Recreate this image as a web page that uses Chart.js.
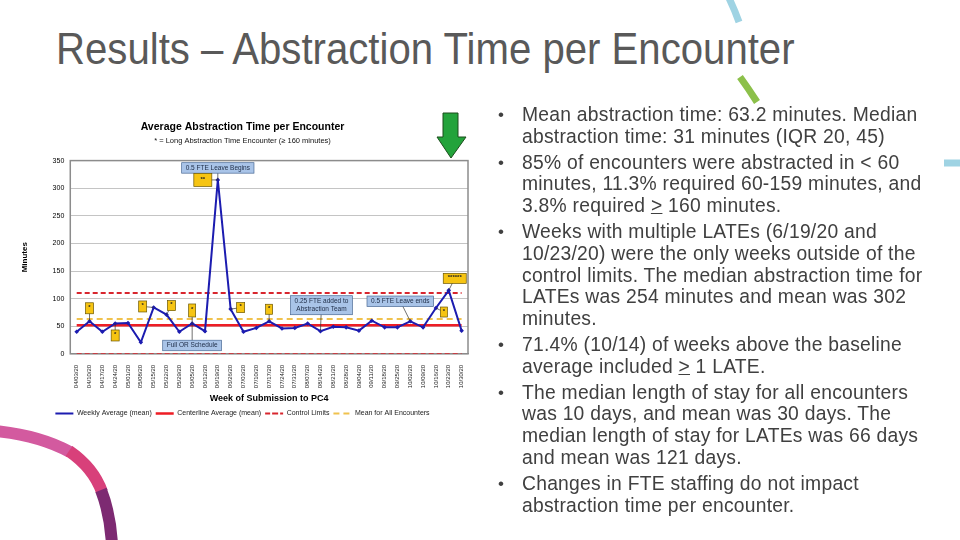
<!DOCTYPE html>
<html>
<head>
<meta charset="utf-8">
<script src="https://cdn.jsdelivr.net/npm/chart.js@4"></script>
<style>
  html, body { margin: 0; padding: 0; background: #fff; }
  body { width: 960px; height: 540px; position: relative; overflow: hidden; font-family: "Liberation Sans", Arial, sans-serif; }
  #deco { position: absolute; left: 0; top: 0; }
  #slideTitle { position: absolute; left: 56px; top: 26px; font-family: "Liberation Sans", Arial, sans-serif; font-size: 44px; line-height: 46px; color: #595959; white-space: nowrap; transform-origin: 0 0; }
  #chartBox { position: absolute; left: 15px; top: 110px; width: 465px; height: 320px; }
  #bullets { position: absolute; left: 498px; top: 104px; font-size: 19.3px; letter-spacing: 0.25px; line-height: 21.8px; color: #404040; white-space: nowrap; }
  .item { position: relative; padding-left: 24px; margin-bottom: 4px; }
  .item:before { content: "\2022"; position: absolute; left: 0; top: 0; font-size: 17px; }
  #arrow { position: absolute; left: 0; top: 0; pointer-events: none; }
</style>
</head>
<body>
<svg id="deco" width="960" height="540">
  <!-- slide decoration arcs -->
  <path d="M727,-6 Q734,8 739,22" stroke="#9fd3e3" stroke-width="7" fill="none"/>
  <path d="M740,77 Q748,88 757,102" stroke="#8cc04a" stroke-width="7" fill="none"/>
  <path d="M944,163 L962,163" stroke="#9fd3e3" stroke-width="7" fill="none"/>
  <path d="M-4,431 C25,434 50,441 70,452" stroke="#d35a9f" stroke-width="12" fill="none"/>
  <path d="M69,451 C85,462 96,475 102,492" stroke="#d8407a" stroke-width="12" fill="none"/>
  <path d="M101,490 C108,508 111,525 112,545" stroke="#7d2a72" stroke-width="12" fill="none"/>
</svg>

<div id="slideTitle">Results – Abstraction Time per Encounter</div>

<div id="chartBox"><canvas id="abstractionChart"></canvas></div>

<svg id="arrow" width="960" height="540">
  <polygon points="443,113 458,113 458,137 466,137 451,158 437,137 443,137" fill="#23a33b" stroke="#1b4d1b" stroke-width="1"/>
</svg>

<div id="bullets">
  <div class="item">Mean abstraction time: 63.2 minutes. Median<br>abstraction time: 31 minutes (IQR 20, 45)</div>
  <div class="item">85% of encounters were abstracted in &lt; 60<br>minutes, 11.3% required 60-159 minutes, and<br>3.8% required <u>&gt;</u> 160 minutes.</div>
  <div class="item">Weeks with multiple LATEs (6/19/20 and<br>10/23/20) were the only weeks outside of the<br>control limits. The median abstraction time for<br>LATEs was 254 minutes and mean was 302<br>minutes.</div>
  <div class="item">71.4% (10/14) of weeks above the baseline<br>average included <u>&gt;</u> 1 LATE.</div>
  <div class="item">The median length of stay for all encounters<br>was 10 days, and mean was 30 days. The<br>median length of stay for LATEs was 66 days<br>and mean was 121 days.</div>
  <div class="item">Changes in FTE staffing do not impact<br>abstraction time per encounter.</div>
</div>

<script>
// weeks of submission (x axis)
const weekLabels = ["04/03/20", "04/10/20", "04/17/20", "04/24/20", "05/01/20", "05/08/20", "05/15/20", "05/22/20",
  "05/29/20", "06/05/20", "06/12/20", "06/19/20", "06/26/20", "07/03/20", "07/10/20", "07/17/20", "07/24/20",
  "07/31/20", "08/07/20", "08/14/20", "08/21/20", "08/28/20", "09/04/20", "09/11/20", "09/18/20", "09/25/20",
  "10/02/20", "10/09/20", "10/16/20", "10/23/20", "10/30/20"];

// weekly average abstraction time (minutes)
const weeklyAvg = [40, 59, 40, 55, 56, 21, 84, 71, 40, 55, 41, 315, 81, 40, 47, 59, 46, 47, 55, 41, 49, 48, 42, 60,
  48, 48, 59, 48, 83, 115, 42];

// reference lines
const centerLine = 52;
const upperLimit = 110;
const lowerLimit = 0;
const allEncounterMean = 63.2;

// y axis
const yMin = 0, yMax = 350, yStep = 50;

// LATE markers (week index + text) and event notes
const lateMarks = [
  { week: 1, text: "*" }, { week: 3, text: "*" }, { week: 6, text: "*" }, { week: 7, text: "*" },
  { week: 9, text: "*" }, { week: 11, text: "**" }, { week: 12, text: "*" }, { week: 15, text: "*" },
  { week: 28, text: "*" }, { week: 29, text: "******" }
];
const eventNotes = [
  { week: 11, text: ["0.5 FTE Leave Begins"] },
  { week: 9, text: ["Full OR Schedule"] },
  { week: 19, text: ["0.25 FTE added to", "Abstraction Team"] },
  { week: 26, text: ["0.5 FTE Leave ends"] }
];

// where each marker box sits relative to its point (pixels)
const lateBoxPlace = {
  1: { dx: 0, dy: -13, w: 8, h: 11 }, 3: { dx: 0, dy: 12, w: 8, h: 11 }, 6: { dx: -11, dy: -1, w: 8, h: 11 },
  7: { dx: 5, dy: -9, w: 8, h: 10 }, 9: { dx: 0, dy: -13, w: 7, h: 13 }, 11: { dx: -15, dy: 0, w: 18, h: 13 },
  12: { dx: 10, dy: -1.5, w: 8, h: 10 }, 15: { dx: 0, dy: -12, w: 7, h: 10 }, 28: { dx: 8, dy: 4, w: 7, h: 10 },
  29: { dx: 6, dy: -12, w: 23, h: 10 }
};
const notePlace = {
  11: { dx: 0, dy: -12 }, 9: { dx: 0, dy: 22 }, 19: { dx: 1, dy: -26 }, 26: { dx: -10, dy: -20 }
};

const fontFam = '"Liberation Sans", Arial, sans-serif';

// squeeze the slide title to the narrow width used in the slide
const titleEl = document.getElementById('slideTitle');
titleEl.style.transform = 'scaleX(' + (739 / titleEl.offsetWidth) + ')';

const notesPlugin = {
  id: 'notes',
  beforeDatasetsDraw(chart) {
    const a = chart.chartArea, ctx = chart.ctx;
    ctx.save();
    ctx.strokeStyle = '#8c8c8c';
    ctx.lineWidth = 1.5;
    ctx.strokeRect(a.left, a.top, a.right - a.left, a.bottom - a.top);
    ctx.restore();
  },
  afterDatasetsDraw(chart) {
    const ctx = chart.ctx, xs = chart.scales.x, ys = chart.scales.y;
    const pt = function (w) { return [xs.getPixelForValue(w), ys.getPixelForValue(weeklyAvg[w])]; };
    ctx.save();
    ctx.strokeStyle = '#333';
    ctx.lineWidth = 0.7;

    // connectors
    eventNotes.forEach(function (n) {
      const p = pt(n.week), o = notePlace[n.week];
      ctx.beginPath(); ctx.moveTo(p[0] + o.dx, p[1] + o.dy); ctx.lineTo(p[0], p[1]); ctx.stroke();
    });
    lateMarks.forEach(function (m) {
      const p = pt(m.week), o = lateBoxPlace[m.week];
      ctx.beginPath(); ctx.moveTo(p[0] + o.dx, p[1] + o.dy); ctx.lineTo(p[0], p[1]); ctx.stroke();
    });

    // event labels
    ctx.font = '6.5px ' + fontFam;
    ctx.textAlign = 'center';
    ctx.textBaseline = 'middle';
    eventNotes.forEach(function (n) {
      const p = pt(n.week), o = notePlace[n.week];
      let w = 0;
      n.text.forEach(function (t) { w = Math.max(w, ctx.measureText(t).width); });
      w += 8;
      const h = n.text.length * 8.5 + 2;
      const cx = p[0] + o.dx, cy = p[1] + o.dy;
      ctx.fillStyle = '#a9c4e8';
      ctx.fillRect(cx - w / 2, cy - h / 2, w, h);
      ctx.strokeStyle = '#4a6a95';
      ctx.strokeRect(cx - w / 2, cy - h / 2, w, h);
      ctx.fillStyle = '#1d2b45';
      n.text.forEach(function (t, k) {
        ctx.fillText(t, cx, cy - h / 2 + 5.2 + k * 8.5);
      });
    });

    // LATE boxes
    ctx.font = 'bold 6px ' + fontFam;
    lateMarks.forEach(function (m) {
      const p = pt(m.week), o = lateBoxPlace[m.week];
      const cx = p[0] + o.dx, cy = p[1] + o.dy;
      ctx.fillStyle = '#f6c412';
      ctx.fillRect(cx - o.w / 2, cy - o.h / 2, o.w, o.h);
      ctx.strokeStyle = '#6b5600';
      ctx.strokeRect(cx - o.w / 2, cy - o.h / 2, o.w, o.h);
      ctx.fillStyle = '#222';
      ctx.fillText(m.text, cx, cy - 1);
    });
    ctx.restore();
  }
};

const refLine = function (v) { return weekLabels.map(function () { return v; }); };

new Chart(document.getElementById('abstractionChart'), {
  type: 'line',
  data: {
    labels: weekLabels,
    datasets: [
      {
        label: 'Weekly Average (mean)', data: weeklyAvg,
        borderColor: '#1c1cb0', backgroundColor: '#1c1cb0', borderWidth: 2,
        pointStyle: 'rectRot', pointRadius: 2.3, pointBorderWidth: 0, tension: 0
      },
      {
        label: 'Centerline Average (mean)', data: refLine(centerLine),
        borderColor: '#ee1d25', backgroundColor: '#ee1d25', borderWidth: 2.5, pointRadius: 0
      },
      {
        label: 'Control Limits', data: refLine(upperLimit),
        borderColor: '#d8262e', backgroundColor: '#d8262e', borderWidth: 2, borderDash: [5, 3], pointRadius: 0
      },
      {
        label: 'Lower Control Limit', data: refLine(lowerLimit),
        borderColor: '#d8262e', backgroundColor: '#d8262e', borderWidth: 1.5, borderDash: [5, 3], pointRadius: 0
      },
      {
        label: 'Mean for All Encounters', data: refLine(allEncounterMean),
        borderColor: '#f0c24e', backgroundColor: '#f0c24e', borderWidth: 2, borderDash: [6, 4], pointRadius: 0
      }
    ]
  },
  options: {
    responsive: true,
    maintainAspectRatio: false,
    animation: false,
    layout: { padding: { left: 2, right: 12, top: 2, bottom: 3 } },
    plugins: {
      title: {
        display: true, text: 'Average Abstraction Time per Encounter', color: '#000',
        font: { family: fontFam, size: 10.5, weight: 'bold' }, padding: { top: 9, bottom: 3 }
      },
      subtitle: {
        display: true, text: '* = Long Abstraction Time Encounter (\u2265 160 minutes)', color: '#111',
        font: { family: fontFam, size: 7.5 }, padding: { bottom: 15 }
      },
      legend: {
        position: 'bottom',
        labels: {
          boxWidth: 18, boxHeight: 0, color: '#222', padding: 4,
          font: { family: fontFam, size: 7 },
          filter: function (item) { return item.text !== 'Lower Control Limit'; }
        }
      },
      tooltip: { enabled: false }
    },
    scales: {
      x: {
        offset: true,
        grid: { display: false },
        border: { color: '#8c8c8c' },
        ticks: { autoSkip: false, minRotation: 90, maxRotation: 90, color: '#222', padding: 3, font: { family: fontFam, size: 6 } },
        title: { display: true, text: 'Week of Submission to PC4', color: '#000', font: { family: fontFam, size: 9, weight: 'bold' }, padding: { top: 2, bottom: 2 } }
      },
      y: {
        min: yMin, max: yMax,
        grid: { color: '#c4c4c4', drawTicks: false },
        border: { display: false },
        ticks: { stepSize: yStep, color: '#000', padding: 6, font: { family: fontFam, size: 7 } },
        title: { display: true, text: 'Minutes', color: '#000', font: { family: fontFam, size: 8, weight: 'bold' }, padding: { top: 3, bottom: 17 } }
      }
    }
  },
  plugins: [notesPlugin]
});
</script>
</body>
</html>
